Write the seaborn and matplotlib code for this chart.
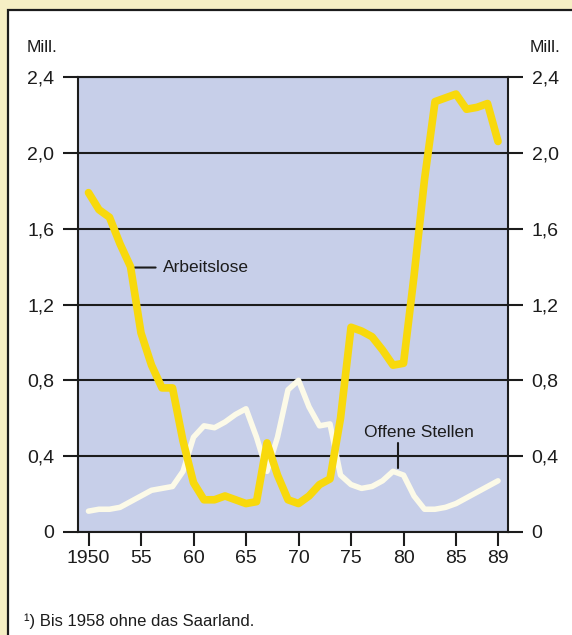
import matplotlib
matplotlib.use("Agg")
import matplotlib.pyplot as plt
import seaborn as sns
import pandas as pd
from matplotlib.patches import Rectangle

# Jahresdurchschnitte in Millionen
years = list(range(1950, 1990))
arbeitslose = [
    1.79, 1.70, 1.66, 1.52, 1.40, 1.05, 0.88, 0.76, 0.76, 0.48,
    0.26, 0.17, 0.17, 0.19, 0.17, 0.15, 0.16, 0.47, 0.30, 0.17,
    0.15, 0.19, 0.25, 0.28, 0.60, 1.08, 1.06, 1.03, 0.96, 0.88,
    0.89, 1.35, 1.86, 2.27, 2.29, 2.31, 2.23, 2.24, 2.26, 2.06,
]
offene_stellen = [
    0.11, 0.12, 0.12, 0.13, 0.16, 0.19, 0.22, 0.23, 0.24, 0.32,
    0.50, 0.56, 0.55, 0.58, 0.62, 0.65, 0.50, 0.32, 0.50, 0.75,
    0.80, 0.66, 0.56, 0.57, 0.30, 0.25, 0.23, 0.24, 0.27, 0.32,
    0.30, 0.19, 0.12, 0.12, 0.13, 0.15, 0.18, 0.21, 0.24, 0.27,
]
y_ticks = [0, 0.4, 0.8, 1.2, 1.6, 2.0, 2.4]
y_labels = ["0", "0,4", "0,8", "1,2", "1,6", "2,0", "2,4"]
x_ticks = [1950, 1955, 1960, 1965, 1970, 1975, 1980, 1985, 1989]
x_labels = ["1950", "55", "60", "65", "70", "75", "80", "85", "89"]

sns.set_style("white")
plt.rcParams["font.family"] = ["Liberation Sans", "DejaVu Sans"]

INK = "#1c1c1c"
W, H = 572, 635

fig = plt.figure(figsize=(W / 100, H / 100), dpi=100)
fig.patch.set_facecolor("#f6efc4")

# white panel with dark border, running off the right and bottom edges
fig.patches.append(Rectangle((8 / W, -0.1), 1.2, 1 - 10 / H + 0.1,
                             transform=fig.transFigure, facecolor="white",
                             edgecolor=INK, lw=1.6, zorder=-5))

ax = fig.add_axes([78 / W, 1 - 532 / H, 430 / W, 455 / H])
ax.set_zorder(2)
ax.set_facecolor("#c7cfe9")

df = pd.DataFrame({"Jahr": years, "Arbeitslose": arbeitslose,
                   "Offene Stellen": offene_stellen})

sns.lineplot(data=df, x="Jahr", y="Offene Stellen", ax=ax, color="#fcfae8",
             lw=4.0, solid_joinstyle="round", solid_capstyle="round", zorder=3)
sns.lineplot(data=df, x="Jahr", y="Arbeitslose", ax=ax, color="#f8d90c",
             lw=5.5, solid_joinstyle="round", solid_capstyle="round", zorder=4)

ax.set_xlim(1949.0, 1989.95)
ax.set_ylim(0, 2.4)
ax.set_xlabel("")
ax.set_ylabel("")

ax.set_yticks(y_ticks, y_labels)
ax.set_xticks(x_ticks, x_labels)
ax.set_axisbelow(True)
ax.grid(axis="y", color=INK, lw=1.5)
ax.grid(axis="x", visible=False)

ax.tick_params(axis="y", direction="out", length=11, width=1.5, pad=6,
               left=True, right=True, labelleft=True, labelright=True,
               labelsize=14, color=INK, labelcolor=INK)
ax.tick_params(axis="x", direction="out", length=10, width=1.5, pad=3,
               bottom=True, labelsize=14, color=INK, labelcolor=INK)
for side in ["left", "right", "top", "bottom"]:
    ax.spines[side].set_color(INK)
    ax.spines[side].set_linewidth(1.5)

# series labels with leader strokes
ax.annotate("Arbeitslose", xy=(1954.4, 1.395), xytext=(1957.1, 1.395),
            va="center", ha="left", fontsize=12.5, color=INK,
            arrowprops=dict(arrowstyle="-", lw=1.5, color=INK,
                            shrinkA=3, shrinkB=0))
ax.text(1981.5, 0.525, "Offene Stellen", ha="center", va="center",
        fontsize=12.5, color=INK)
ax.plot([1979.5, 1979.5], [0.47, 0.34], color=INK, lw=1.5, zorder=5)

fig.text(58 / W, 1 - 47 / H, "Mill.", ha="right", va="center",
         fontsize=12.5, color=INK)
fig.text(530 / W, 1 - 47 / H, "Mill.", ha="left", va="center",
         fontsize=12.5, color=INK)
fig.text(24 / W, 1 - 621 / H, "¹) Bis 1958 ohne das Saarland.",
         ha="left", va="center", fontsize=12, color=INK)

fig.savefig("out.png", dpi=100, facecolor=fig.get_facecolor())
